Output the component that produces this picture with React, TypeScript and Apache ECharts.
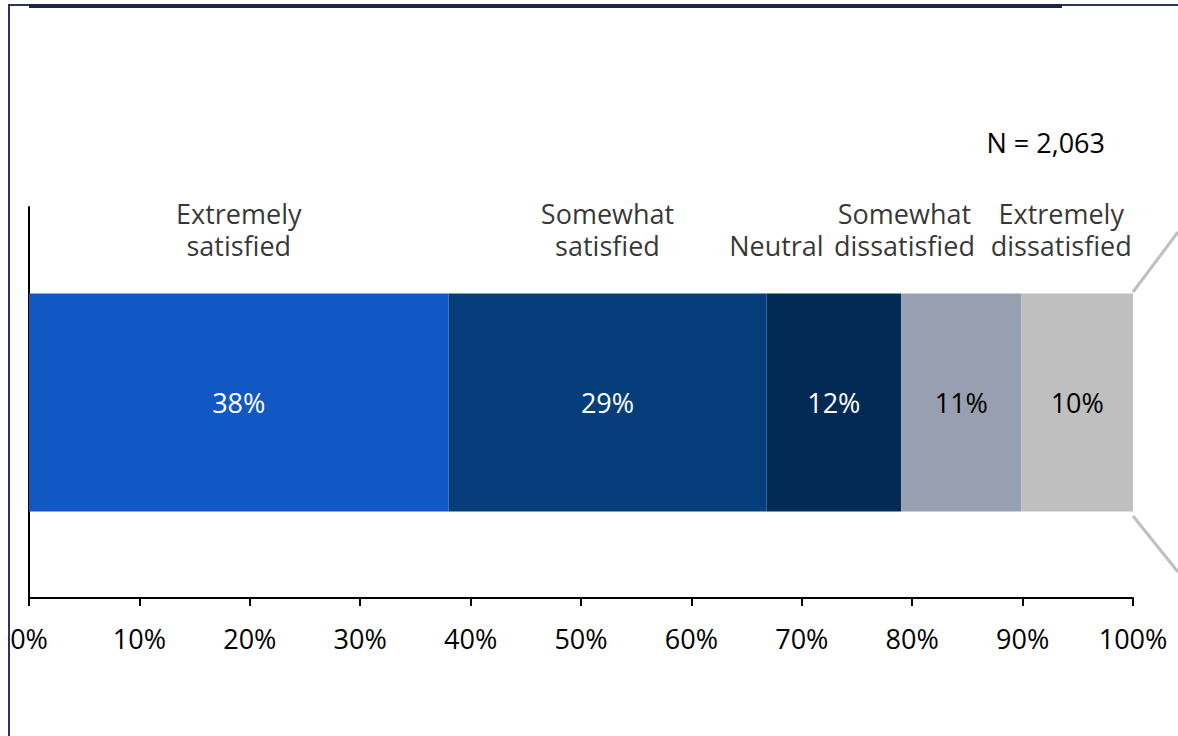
import React, { useEffect, useRef } from "react";
import * as echarts from "echarts";

const categories = ["Extremely satisfied", "Somewhat satisfied", "Neutral", "Somewhat dissatisfied", "Extremely dissatisfied"];
const headerLabels = ["Extremely\nsatisfied", "Somewhat\nsatisfied", "Neutral", "Somewhat\ndissatisfied", "Extremely\ndissatisfied"];
const values = [38.0, 28.8, 12.2, 10.9, 10.1];
const shownPercent = ["38%", "29%", "12%", "11%", "10%"];
const headerX = [19.0, 52.4, 67.7, 79.3, 93.5];
const colors = ["#1158c4", "#063e7c", "#022a55", "#989fb0", "#bfbfbf"];
const labelColors = ["#ffffff", "#ffffff", "#ffffff", "#000000", "#000000"];
const xTicks = [0, 10, 20, 30, 40, 50, 60, 70, 80, 90, 100];
const sampleNote = "N = 2,063";

const FONT = "'Open Sans', 'Noto Sans', sans-serif";
const FS = 27;

export default function App() {
  const ref = useRef<HTMLDivElement>(null);
  useEffect(() => {
    if (!ref.current) return;
    const chart = echarts.init(ref.current, undefined, { renderer: "svg" });
    const barSeries = categories.map((name, i) => ({
      name,
      type: "bar",
      stack: "total",
      barWidth: 218,
      data: [values[i]],
      itemStyle: { color: colors[i] },
      label: {
        show: true,
        position: "inside",
        formatter: () => shownPercent[i],
        color: labelColors[i],
        fontSize: FS,
        fontFamily: FONT,
      },
    }));
    const headerSeries = {
      type: "scatter",
      symbolSize: 1,
      itemStyle: { color: "rgba(0,0,0,0)" },
      data: headerX.map((x, i) => ({
        value: [x, 0],
        label: { formatter: headerLabels[i] },
      })),
      label: {
        show: true,
        position: "top",
        distance: 141,
        color: "#000",
        fontSize: FS,
        lineHeight: 32,
        align: "center",
        fontFamily: FONT,
      },
      silent: true,
    };
    chart.setOption({
      animation: false,
      textStyle: { fontFamily: FONT },
      grid: { left: 29, right: 45, top: 207, bottom: 138 },
      xAxis: {
        type: "value",
        min: 0,
        max: 100,
        interval: 10,
        axisLine: { show: true, lineStyle: { color: "#000", width: 2 } },
        axisTick: { show: true, length: 8, lineStyle: { color: "#000", width: 2 } },
        splitLine: { show: false },
        axisLabel: {
          margin: 27,
          fontSize: FS,
          color: "#000",
          fontFamily: FONT,
          formatter: (v: number) => (xTicks.includes(v) ? v + "%" : ""),
        },
      },
      yAxis: {
        type: "category",
        data: [""],
        axisLine: { show: true, lineStyle: { color: "#000", width: 2 } },
        axisTick: { show: false },
        axisLabel: { show: false },
      },
      series: [...barSeries, headerSeries],
      graphic: [
        { type: "line", shape: { x1: 8, y1: 5, x2: 1178, y2: 5 }, style: { stroke: "#2e3366", lineWidth: 2 } },
        { type: "line", shape: { x1: 29, y1: 6, x2: 1062, y2: 6 }, style: { stroke: "#1f2249", lineWidth: 4 } },
        { type: "line", shape: { x1: 9, y1: 5, x2: 9, y2: 736 }, style: { stroke: "#2e3366", lineWidth: 2 } },
        { type: "line", shape: { x1: 1133, y1: 292, x2: 1178, y2: 232 }, style: { stroke: "#bfbfbf", lineWidth: 3 } },
        { type: "line", shape: { x1: 1133, y1: 516, x2: 1178, y2: 572 }, style: { stroke: "#bfbfbf", lineWidth: 3 } },
        {
          type: "text",
          x: 1105,
          y: 142,
          style: { text: sampleNote, fill: "#000", font: `${FS}px ${FONT}`, textAlign: "right", textVerticalAlign: "middle" },
        },
      ],
    });
    return () => chart.dispose();
  }, []);
  return <div ref={ref} style={{ position: "fixed", left: 0, top: 0, width: 1178, height: 736, background: "#fff" }} />;
}
